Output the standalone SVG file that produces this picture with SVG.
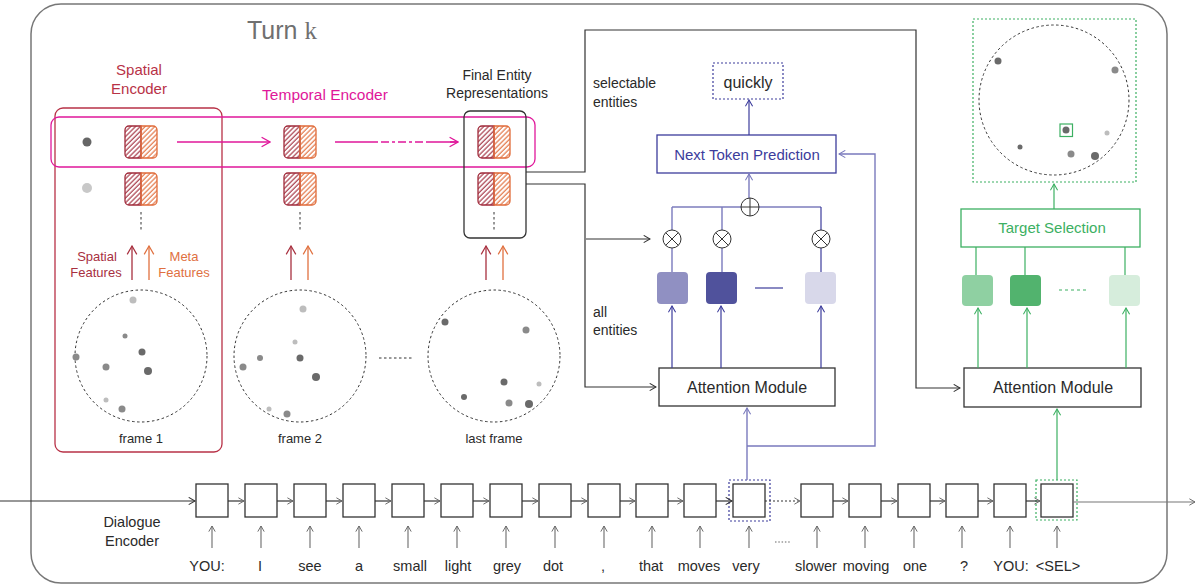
<svg xmlns="http://www.w3.org/2000/svg" width="1201" height="587" viewBox="0 0 1201 587">
<style>
text{font-family:"Liberation Sans",Arial,sans-serif;}
.t{fill:#2a2a2a;font-size:14px;}
.c{text-anchor:middle;}
.dash{fill:none;stroke:#333;stroke-width:1;stroke-dasharray:2.5,2.5;}
.cell{fill:#fff;stroke:#333;stroke-width:1.3;}
.ln{fill:none;stroke:#333;stroke-width:1.2;}
.lg{fill:none;stroke:#777;stroke-width:1.2;}
.pur{fill:none;stroke:#3c3c9c;stroke-width:1.2;}
.purl{fill:none;stroke:#7a7abd;stroke-width:1.4;}
.grn{fill:none;stroke:#3cb062;stroke-width:1.2;}
.mag{fill:none;stroke:#e0179a;stroke-width:1.4;}
.dk{fill:#6a6a6a;} .md{fill:#8a8a8a;} .lt{fill:#bdbdbd;}
.op{fill:#fff;stroke:#333;stroke-width:1;}
</style>
<defs>
<pattern id="hR" width="3.4" height="3.4" patternUnits="userSpaceOnUse" patternTransform="rotate(45)"><line x1="1" y1="0" x2="1" y2="3.4" stroke="#a02a3a" stroke-width="1.1"/></pattern>
<pattern id="hO" width="3.4" height="3.4" patternUnits="userSpaceOnUse" patternTransform="rotate(45)"><line x1="1" y1="0" x2="1" y2="3.4" stroke="#e06a38" stroke-width="1.1"/></pattern>
<g id="hb">
<path d="M16,0 H4 A4,4 0 0 0 0,4 V28 A4,4 0 0 0 4,32 H16 Z" fill="url(#hR)" stroke="#a02a3a" stroke-width="1.3"/>
<path d="M16,0 H28 A4,4 0 0 1 32,4 V28 A4,4 0 0 1 28,32 H16 Z" fill="url(#hO)" stroke="#e06a38" stroke-width="1.3"/>
</g>
<marker id="mDark" viewBox="0 0 10 10" refX="9" refY="5" markerWidth="9" markerHeight="9" markerUnits="userSpaceOnUse" orient="auto"><path d="M2,1 L9,5 L2,9" fill="none" stroke="#333" stroke-width="1.2"/></marker>
<marker id="mGray" viewBox="0 0 10 10" refX="9" refY="5" markerWidth="8" markerHeight="8" markerUnits="userSpaceOnUse" orient="auto"><path d="M2,1 L9,5 L2,9" fill="none" stroke="#666" stroke-width="1.2"/></marker>
<marker id="mMag" viewBox="0 0 10 10" refX="9" refY="5" markerWidth="12" markerHeight="12" markerUnits="userSpaceOnUse" orient="auto"><path d="M2,1 L9,5 L2,9" fill="none" stroke="#e0179a" stroke-width="1.1"/></marker>
<marker id="mPur" viewBox="0 0 10 10" refX="9" refY="5" markerWidth="9" markerHeight="9" markerUnits="userSpaceOnUse" orient="auto"><path d="M2,1 L9,5 L2,9" fill="none" stroke="#3c3c9c" stroke-width="1.2"/></marker>
<marker id="mPurL" viewBox="0 0 10 10" refX="9" refY="5" markerWidth="9" markerHeight="9" markerUnits="userSpaceOnUse" orient="auto"><path d="M2,1 L9,5 L2,9" fill="none" stroke="#7a7abd" stroke-width="1.2"/></marker>
<marker id="mGrn" viewBox="0 0 10 10" refX="9" refY="5" markerWidth="9" markerHeight="9" markerUnits="userSpaceOnUse" orient="auto"><path d="M2,1 L9,5 L2,9" fill="none" stroke="#3cb062" stroke-width="1.2"/></marker>
<marker id="mRed" viewBox="0 0 10 10" refX="9" refY="5" markerWidth="12" markerHeight="12" markerUnits="userSpaceOnUse" orient="auto"><path d="M2,1 L9,5 L2,9" fill="none" stroke="#a8303f" stroke-width="1"/></marker>
<marker id="mOrg" viewBox="0 0 10 10" refX="9" refY="5" markerWidth="12" markerHeight="12" markerUnits="userSpaceOnUse" orient="auto"><path d="M2,1 L9,5 L2,9" fill="none" stroke="#e0703f" stroke-width="1"/></marker>
</defs>
<rect width="1201" height="587" fill="#fff"/>

<g id="turn-frame">
<rect x="31" y="4" width="1136" height="579" rx="30" fill="none" stroke="#777" stroke-width="1.5"/>
<text x="247" y="39" font-size="25" fill="#707070">Turn <tspan font-family="Liberation Serif, serif">k</tspan></text>
</g>

<g id="spatial-encoder">
<rect x="55" y="108" width="167" height="344" rx="8" fill="none" stroke="#b83247" stroke-width="1.3"/>
<text class="c" x="139" y="75" font-size="15" fill="#b83247">Spatial</text>
<text class="c" x="139" y="94" font-size="15" fill="#b83247">Encoder</text>
</g>

<g id="temporal-encoder">
<rect x="51" y="117" width="484" height="50" rx="8" fill="none" stroke="#e0179a" stroke-width="1.3"/>
<text class="c" x="325" y="100" font-size="15.5" fill="#e0179a">Temporal Encoder</text>
</g>

<g id="final-entity">
<rect x="464" y="111" width="62" height="127" rx="6" fill="none" stroke="#333" stroke-width="1.3"/>
<text class="c t" x="497" y="80">Final Entity</text>
<text class="c t" x="497" y="98">Representations</text>
</g>

<g id="frame1">
<circle cx="87" cy="142" r="4.5" fill="#666"/>
<circle cx="87" cy="188" r="5" fill="#c8c8c8"/>
<use href="#hb" x="125" y="126"/>
<use href="#hb" x="125" y="173"/>
<line x1="141" y1="212" x2="141" y2="232" class="dash"/>
<line x1="132" y1="280" x2="132" y2="246" stroke="#a8303f" stroke-width="1.3" marker-end="url(#mRed)"/>
<line x1="149" y1="280" x2="149" y2="246" stroke="#e0703f" stroke-width="1.3" marker-end="url(#mOrg)"/>
<text class="c" x="97" y="261" font-size="13" fill="#a8303f">Spatial</text>
<text class="c" x="96" y="277" font-size="13" fill="#a8303f">Features</text>
<text class="c" x="184" y="261" font-size="13" fill="#e0703f">Meta</text>
<text class="c" x="184" y="277" font-size="13" fill="#e0703f">Features</text>
<circle cx="141" cy="356" r="66" class="dash"/>
<circle cx="133" cy="300" r="3.5" class="lt"/>
<circle cx="125" cy="336" r="2.5" class="md"/>
<circle cx="142" cy="352" r="3.5" class="dk"/>
<circle cx="76" cy="357" r="3.5" class="md"/>
<circle cx="106" cy="367" r="3.5" class="md"/>
<circle cx="148" cy="371" r="4" class="dk"/>
<circle cx="106" cy="400" r="2.5" class="lt"/>
<circle cx="122" cy="409" r="3.5" class="md"/>
<text class="c" x="141" y="443" font-size="13" fill="#2a2a2a">frame 1</text>
</g>

<g id="frame2">
<use href="#hb" x="284" y="126"/>
<use href="#hb" x="284" y="173"/>
<line x1="300" y1="212" x2="300" y2="232" class="dash"/>
<line x1="291" y1="280" x2="291" y2="246" stroke="#a8303f" stroke-width="1.3" marker-end="url(#mRed)"/>
<line x1="308" y1="280" x2="308" y2="246" stroke="#e0703f" stroke-width="1.3" marker-end="url(#mOrg)"/>
<circle cx="300" cy="356" r="66" class="dash"/>
<circle cx="303" cy="309" r="3.5" class="lt"/>
<circle cx="295" cy="342" r="2.5" class="lt"/>
<circle cx="260" cy="358" r="3" class="md"/>
<circle cx="300" cy="358" r="3.5" class="dk"/>
<circle cx="243" cy="367" r="3.5" class="md"/>
<circle cx="316" cy="377" r="4" class="dk"/>
<circle cx="269" cy="409" r="2.5" class="lt"/>
<circle cx="287" cy="414" r="3.5" class="md"/>
<text class="c" x="300" y="443" font-size="13" fill="#2a2a2a">frame 2</text>
<line x1="379" y1="358" x2="413" y2="358" class="dash"/>
</g>

<g id="last-frame">
<use href="#hb" x="478" y="126"/>
<use href="#hb" x="478" y="173"/>
<line x1="494" y1="212" x2="494" y2="232" class="dash"/>
<line x1="486" y1="280" x2="486" y2="246" stroke="#a8303f" stroke-width="1.3" marker-end="url(#mRed)"/>
<line x1="503" y1="280" x2="503" y2="246" stroke="#e0703f" stroke-width="1.3" marker-end="url(#mOrg)"/>
<circle cx="494" cy="356" r="66" class="dash"/>
<circle cx="445" cy="322" r="3.5" class="dk"/>
<circle cx="526" cy="330" r="3.5" class="md"/>
<circle cx="504" cy="382" r="3.5" class="dk"/>
<circle cx="539" cy="384" r="2.5" class="lt"/>
<circle cx="464" cy="397" r="3" class="dk"/>
<circle cx="509" cy="403" r="3.5" class="md"/>
<circle cx="529" cy="404" r="4" class="dk"/>
<text class="c" x="494" y="443" font-size="13" fill="#2a2a2a">last frame</text>
</g>

<g id="ntp-branch">
<rect x="713" y="63" width="70" height="36" fill="none" stroke="#3c3c9c" stroke-width="1.2" stroke-dasharray="2,2"/>
<text class="c" x="748" y="88" font-size="16" fill="#2a2a2a">quickly</text>
<rect x="657" y="135" width="179" height="38" fill="#fff" stroke="#3c3c9c" stroke-width="1.3"/>
<text class="c" x="747" y="160" font-size="15" fill="#3c3c9c">Next Token Prediction</text>
<rect x="657" y="272" width="31" height="32" rx="4" fill="#9090c2"/>
<rect x="706" y="272" width="31" height="32" rx="4" fill="#50529c"/>
<rect x="805" y="272" width="31" height="32" rx="4" fill="#d8d8ea"/>
<line x1="755" y1="288" x2="783" y2="288" stroke="#3c3c9c" stroke-width="1.2"/>
<rect x="659" y="368" width="176" height="38" fill="#fff" stroke="#333" stroke-width="1.3"/>
<text class="c" x="747" y="393" font-size="16" fill="#2a2a2a">Attention Module</text>
<text class="t" x="593" y="88">selectable</text>
<text class="t" x="593" y="107">entities</text>
<text class="t" x="593" y="317">all</text>
<text class="t" x="593" y="335">entities</text>
</g>

<g id="target-branch">
<rect x="973" y="19" width="163" height="163" fill="none" stroke="#3cb062" stroke-width="1.2" stroke-dasharray="2,2"/>
<circle cx="1054" cy="100" r="75" class="dash"/>
<circle cx="998" cy="61" r="3.5" class="dk"/>
<circle cx="1115" cy="70" r="3.5" class="md"/>
<rect x="1060" y="124" width="12.5" height="12.5" fill="none" stroke="#3cb062" stroke-width="1.2"/>
<circle cx="1066" cy="130" r="3.5" class="dk"/>
<circle cx="1107" cy="133" r="2.5" class="lt"/>
<circle cx="1020" cy="147" r="2.5" class="dk"/>
<circle cx="1071" cy="154" r="3.5" class="md"/>
<circle cx="1095" cy="156" r="4" class="dk"/>
<rect x="961" y="209" width="179" height="38" fill="#fff" stroke="#3cb062" stroke-width="1.3"/>
<text class="c" x="1052" y="233" font-size="15" fill="#3cb062">Target Selection</text>
<rect x="962" y="275" width="31" height="31" rx="4" fill="#8fd0a2"/>
<rect x="1010" y="275" width="31" height="31" rx="4" fill="#52b36e"/>
<rect x="1109" y="275" width="31" height="31" rx="4" fill="#d6eddc"/>
<line x1="1059" y1="290" x2="1087" y2="290" stroke="#3cb062" stroke-width="1.2" stroke-dasharray="3,3"/>
<rect x="964" y="368" width="177" height="39" fill="#fff" stroke="#333" stroke-width="1.3"/>
<text class="c" x="1053" y="393" font-size="16" fill="#2a2a2a">Attention Module</text>
</g>

<g id="dialogue-encoder">
<text class="c" x="132" y="527" font-size="14.5" fill="#2a2a2a">Dialogue</text>
<text class="c" x="132" y="546" font-size="14.5" fill="#2a2a2a">Encoder</text>
<rect x="729" y="480" width="41" height="41" fill="none" stroke="#3c3c9c" stroke-width="1.2" stroke-dasharray="2,2"/>
<rect x="1036" y="480" width="41" height="40" fill="none" stroke="#3cb062" stroke-width="1.2" stroke-dasharray="2,2"/>
<rect class="cell" x="196" y="484" width="32" height="33"/>
<rect class="cell" x="245" y="484" width="32" height="33"/>
<rect class="cell" x="294" y="484" width="32" height="33"/>
<rect class="cell" x="343" y="484" width="32" height="33"/>
<rect class="cell" x="392" y="484" width="32" height="33"/>
<rect class="cell" x="441" y="484" width="32" height="33"/>
<rect class="cell" x="490" y="484" width="32" height="33"/>
<rect class="cell" x="539" y="484" width="32" height="33"/>
<rect class="cell" x="588" y="484" width="32" height="33"/>
<rect class="cell" x="636" y="484" width="32" height="33"/>
<rect class="cell" x="684" y="484" width="32" height="33"/>
<rect class="cell" x="733" y="484" width="32" height="33"/>
<rect class="cell" x="801" y="484" width="32" height="33"/>
<rect class="cell" x="849" y="484" width="32" height="33"/>
<rect class="cell" x="898" y="484" width="32" height="33"/>
<rect class="cell" x="946" y="484" width="32" height="33"/>
<rect class="cell" x="994" y="484" width="32" height="33"/>
<rect class="cell" x="1041" y="484" width="32" height="33"/>
<g font-size="14.5" fill="#2a2a2a" text-anchor="middle">
<text x="207" y="571">YOU:</text>
<text x="260" y="571">I</text>
<text x="310" y="571">see</text>
<text x="359" y="571">a</text>
<text x="410" y="571">small</text>
<text x="458" y="571">light</text>
<text x="507" y="571">grey</text>
<text x="553" y="571">dot</text>
<text x="603" y="571">,</text>
<text x="651" y="571">that</text>
<text x="699" y="571">moves</text>
<text x="746" y="571">very</text>
<text x="816" y="571">slower</text>
<text x="866" y="571">moving</text>
<text x="915" y="571">one</text>
<text x="964" y="571">?</text>
<text x="1011" y="571">YOU:</text>
<text x="1058" y="571">&lt;SEL&gt;</text>
</g>
<line x1="775" y1="542" x2="791" y2="542" stroke="#666" stroke-width="1.2" stroke-dasharray="1.5,1.8"/>
</g>

<g id="connectors">
<line x1="177" y1="142" x2="270" y2="142" class="mag" marker-end="url(#mMag)"/>
<line x1="335" y1="142" x2="458" y2="142" class="mag" stroke-dasharray="43,3,8,3,3,3,8,3,3,3,8,3,100"/>
<line x1="450" y1="142" x2="458" y2="142" class="mag" marker-end="url(#mMag)"/>
<polyline points="526,172 585,172 585,30 916,30 916,388 960,388" class="ln" marker-end="url(#mDark)"/>
<polyline points="526,184 585,184 585,387 656,387" class="ln" marker-end="url(#mDark)"/>
<line x1="586" y1="239" x2="650" y2="239" class="ln" marker-end="url(#mDark)"/>
<line x1="749" y1="135" x2="749" y2="100" class="pur" marker-end="url(#mPur)"/>
<line x1="749" y1="198" x2="749" y2="174" class="purl" marker-end="url(#mPurL)"/>
<line x1="672" y1="207" x2="821" y2="207" class="pur"/>
<line x1="672" y1="207" x2="672" y2="230" class="purl"/>
<line x1="722" y1="207" x2="722" y2="230" class="purl"/>
<line x1="821" y1="207" x2="821" y2="230" class="pur"/>
<line x1="672" y1="248" x2="672" y2="272" class="purl"/>
<line x1="722" y1="248" x2="722" y2="272" class="purl"/>
<line x1="821" y1="248" x2="821" y2="272" class="pur"/>
<circle cx="750" cy="207" r="9" class="op"/>
<path d="M741,207 H759 M750,198 V216" stroke="#333" stroke-width="1"/>
<circle cx="672" cy="239" r="9" class="op"/>
<circle cx="722" cy="239" r="9" class="op"/>
<circle cx="821" cy="239" r="9" class="op"/>
<path d="M665.6,232.6 L678.4,245.4 M678.4,232.6 L665.6,245.4 M715.6,232.6 L728.4,245.4 M728.4,232.6 L715.6,245.4 M814.6,232.6 L827.4,245.4 M827.4,232.6 L814.6,245.4" stroke="#333" stroke-width="1"/>
<line x1="672" y1="368" x2="672" y2="306" class="pur" marker-end="url(#mPur)"/>
<line x1="721" y1="368" x2="721" y2="306" class="pur" marker-end="url(#mPur)"/>
<line x1="821" y1="368" x2="821" y2="306" class="pur" marker-end="url(#mPur)"/>
<line x1="747" y1="480" x2="747" y2="408" class="purl" marker-end="url(#mPurL)"/>
<polyline points="747,446 875,446 875,154 839,154" class="purl" marker-end="url(#mPurL)"/>
<line x1="1054" y1="209" x2="1054" y2="184" class="grn" marker-end="url(#mGrn)"/>
<line x1="976" y1="275" x2="976" y2="247" class="grn"/>
<line x1="1025" y1="275" x2="1025" y2="247" class="grn"/>
<line x1="1125" y1="275" x2="1125" y2="247" class="grn"/>
<line x1="978" y1="368" x2="978" y2="308" class="grn" marker-end="url(#mGrn)"/>
<line x1="1027" y1="368" x2="1027" y2="308" class="grn" marker-end="url(#mGrn)"/>
<line x1="1126" y1="368" x2="1126" y2="308" class="grn" marker-end="url(#mGrn)"/>
<line x1="1057" y1="480" x2="1057" y2="409" class="grn" marker-end="url(#mGrn)"/>
<line x1="0" y1="501" x2="195" y2="501" class="ln" marker-end="url(#mDark)"/>
<g class="ln">
<line x1="228" y1="501" x2="244" y2="501" marker-end="url(#mGray)"/>
<line x1="277" y1="501" x2="293" y2="501" marker-end="url(#mGray)"/>
<line x1="326" y1="501" x2="342" y2="501" marker-end="url(#mGray)"/>
<line x1="375" y1="501" x2="391" y2="501" marker-end="url(#mGray)"/>
<line x1="424" y1="501" x2="440" y2="501" marker-end="url(#mGray)"/>
<line x1="473" y1="501" x2="489" y2="501" marker-end="url(#mGray)"/>
<line x1="522" y1="501" x2="538" y2="501" marker-end="url(#mGray)"/>
<line x1="571" y1="501" x2="587" y2="501" marker-end="url(#mGray)"/>
<line x1="620" y1="501" x2="635" y2="501" marker-end="url(#mGray)"/>
<line x1="668" y1="501" x2="683" y2="501" marker-end="url(#mGray)"/>
<line x1="716" y1="501" x2="732" y2="501" marker-end="url(#mDark)"/>
<line x1="765" y1="501" x2="800" y2="501" stroke-dasharray="2,2" marker-end="url(#mGray)"/>
<line x1="833" y1="501" x2="848" y2="501" marker-end="url(#mGray)"/>
<line x1="881" y1="501" x2="897" y2="501" marker-end="url(#mGray)"/>
<line x1="930" y1="501" x2="945" y2="501" marker-end="url(#mGray)"/>
<line x1="978" y1="501" x2="993" y2="501" marker-end="url(#mGray)"/>
<line x1="1026" y1="501" x2="1040" y2="501" marker-end="url(#mGray)"/>
</g>
<line x1="1073" y1="502" x2="1195" y2="502" class="lg" marker-end="url(#mGray)"/>
<g class="lg">
<line x1="212" y1="548" x2="212" y2="526" marker-end="url(#mGray)"/>
<line x1="261" y1="548" x2="261" y2="526" marker-end="url(#mGray)"/>
<line x1="310" y1="548" x2="310" y2="526" marker-end="url(#mGray)"/>
<line x1="359" y1="548" x2="359" y2="526" marker-end="url(#mGray)"/>
<line x1="408" y1="548" x2="408" y2="526" marker-end="url(#mGray)"/>
<line x1="457" y1="548" x2="457" y2="526" marker-end="url(#mGray)"/>
<line x1="506" y1="548" x2="506" y2="526" marker-end="url(#mGray)"/>
<line x1="555" y1="548" x2="555" y2="526" marker-end="url(#mGray)"/>
<line x1="604" y1="548" x2="604" y2="526" marker-end="url(#mGray)"/>
<line x1="652" y1="548" x2="652" y2="526" marker-end="url(#mGray)"/>
<line x1="700" y1="548" x2="700" y2="526" marker-end="url(#mGray)"/>
<line x1="749" y1="548" x2="749" y2="526" marker-end="url(#mGray)"/>
<line x1="817" y1="548" x2="817" y2="526" marker-end="url(#mGray)"/>
<line x1="865" y1="548" x2="865" y2="526" marker-end="url(#mGray)"/>
<line x1="914" y1="548" x2="914" y2="526" marker-end="url(#mGray)"/>
<line x1="962" y1="548" x2="962" y2="526" marker-end="url(#mGray)"/>
<line x1="1010" y1="548" x2="1010" y2="526" marker-end="url(#mGray)"/>
<line x1="1057" y1="548" x2="1057" y2="526" marker-end="url(#mGray)"/>
</g>
</g>
</svg>
